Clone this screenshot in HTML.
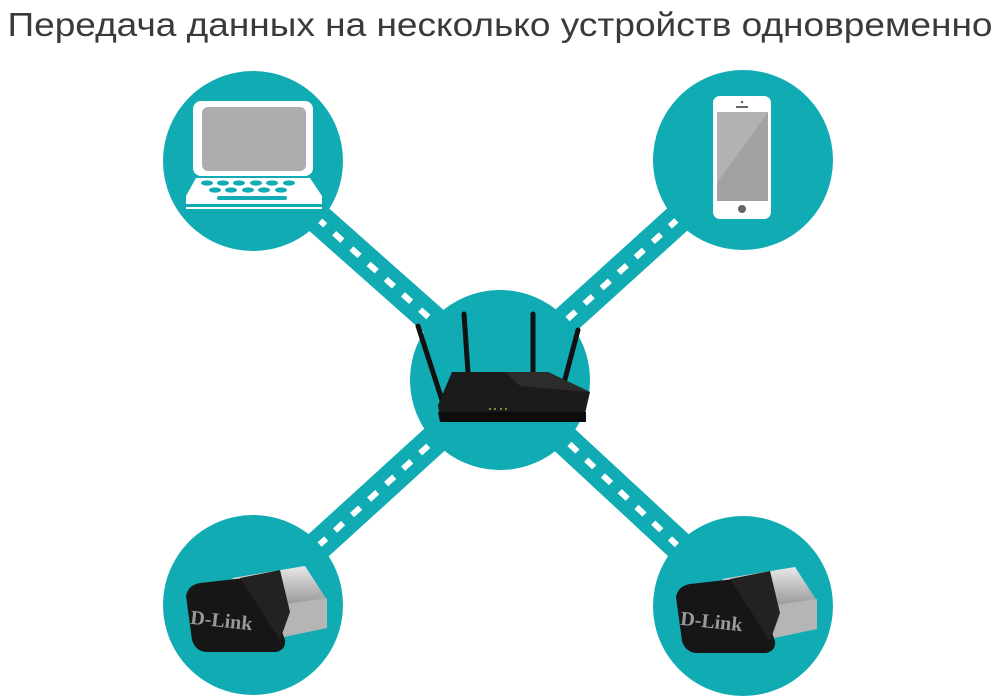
<!DOCTYPE html>
<html><head><meta charset="utf-8"><style>
html,body{margin:0;padding:0;background:#fff;width:1000px;height:697px;overflow:hidden}
svg{display:block}
</style></head><body>
<svg width="1000" height="697" viewBox="0 0 1000 697" xmlns="http://www.w3.org/2000/svg">
<defs>
<linearGradient id="usb" x1="0" y1="0" x2="0" y2="1"><stop offset="0" stop-color="#e8e8e8"/><stop offset="1" stop-color="#8a8a8a"/></linearGradient>
</defs>
<text x="500" y="36" text-anchor="middle" font-family="Liberation Sans, sans-serif" font-size="33" fill="#3a3a3a" textLength="985" lengthAdjust="spacingAndGlyphs">Передача данных на несколько устройств одновременно</text>
<g stroke="#10abb3" stroke-width="30">
<line x1="253" y1="161" x2="500" y2="380"/>
<line x1="743" y1="160" x2="500" y2="380"/>
<line x1="253" y1="605" x2="500" y2="380"/>
<line x1="743" y1="605" x2="500" y2="380"/>
</g>
<g stroke="#fff" stroke-width="6" stroke-dasharray="11 12">
<line x1="317" y1="218" x2="434" y2="322"/>
<line x1="678" y1="219" x2="562" y2="324"/>
<line x1="318" y1="546" x2="438" y2="437"/>
<line x1="678" y1="546" x2="562" y2="437"/>
</g>
<g fill="#10abb3">
<circle cx="253" cy="161" r="90"/>
<circle cx="743" cy="160" r="90"/>
<circle cx="500" cy="380" r="90"/>
<circle cx="253" cy="605" r="90"/>
<circle cx="743" cy="606" r="90"/>
</g>
<rect x="193" y="101" width="120" height="75" rx="8" fill="#fff"/>
<rect x="202" y="107" width="104" height="64" rx="6" fill="#adadad"/>
<path d="M196 178 H310 L322 196 V209 H186 V196 Z" fill="#fff"/>
<rect x="186" y="204" width="136" height="3" fill="#10abb3"/>
<g fill="#10abb3">
<ellipse cx="207" cy="183" rx="6" ry="2.6"/><ellipse cx="223" cy="183" rx="6" ry="2.6"/><ellipse cx="239" cy="183" rx="6" ry="2.6"/><ellipse cx="256" cy="183" rx="6" ry="2.6"/><ellipse cx="272" cy="183" rx="6" ry="2.6"/><ellipse cx="289" cy="183" rx="6" ry="2.6"/>
<ellipse cx="215" cy="190" rx="6" ry="2.6"/><ellipse cx="231" cy="190" rx="6" ry="2.6"/><ellipse cx="248" cy="190" rx="6" ry="2.6"/><ellipse cx="264" cy="190" rx="6" ry="2.6"/><ellipse cx="281" cy="190" rx="6" ry="2.6"/>
<rect x="217" y="196" width="70" height="4" rx="2"/>
</g>
<rect x="713" y="96" width="58" height="123" rx="7" fill="#fff"/>
<rect x="717" y="112" width="51" height="89" fill="#a2a2a2"/>
<path d="M717 112 H768 L717 183 Z" fill="#b2b2b2"/>
<circle cx="742" cy="209" r="4" fill="#666"/>
<rect x="736" y="106" width="12" height="2" fill="#666"/>
<circle cx="742" cy="102" r="1.3" fill="#666"/>
<g stroke="#111" stroke-linecap="round">
<line x1="418" y1="326" x2="442" y2="400" stroke-width="5"/>
<line x1="464" y1="314" x2="468" y2="372" stroke-width="5"/>
<line x1="533" y1="314" x2="533" y2="372" stroke-width="5"/>
<line x1="578" y1="330" x2="560" y2="398" stroke-width="5"/>
</g>
<path d="M452 372 H548 L590 392 L584 418 H440 L438 405 Z" fill="#1b1b1b"/>
<path d="M438 412 H586 V422 H440 Z" fill="#0c0c0c"/>
<path d="M505 372 H548 L590 392 L520 386 Z" fill="#2c2c2c"/>
<g fill="#7a8a3a"><rect x="489" y="408" width="2" height="2"/><rect x="494" y="408" width="2" height="2"/><rect x="500" y="408" width="2" height="2"/><rect x="505" y="408" width="2" height="2"/></g>
<g id="usbA">
<path d="M232 578 L305 566 L327 600 L270 612 Z" fill="url(#usb)"/>
<path d="M260 608 L327 598 V628 L270 640 Z" fill="#b5b5b5"/>
<path d="M186 596 Q188 585 200 583 L245 578 Q262 580 270 598 L285 640 Q286 650 276 652 L210 652 Q196 653 192 640 Z" fill="#161616"/>
<path d="M240 578 L280 570 L290 612 L280 640 Z" fill="#222"/>
<text x="190" y="628" font-family="Liberation Serif, serif" font-weight="bold" font-size="20" fill="#999" transform="rotate(6 230 625)">D-Link</text>
</g>
<use href="#usbA" transform="translate(490 1)"/>
</svg>
</body></html>
